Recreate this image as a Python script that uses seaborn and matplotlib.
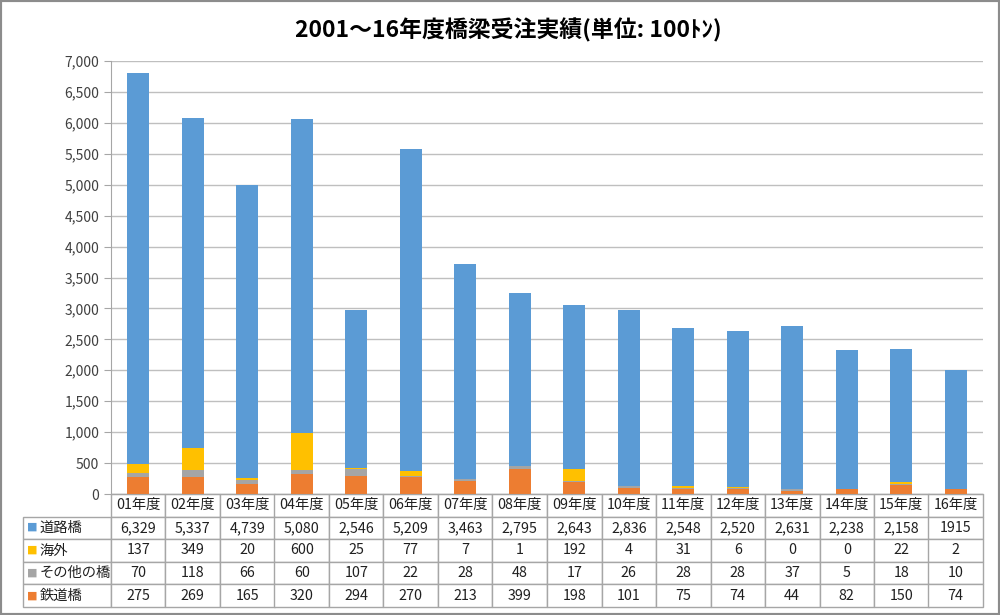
import numpy as np
import pandas as pd
import matplotlib
matplotlib.use('Agg')
import matplotlib.pyplot as plt
import matplotlib.ticker as ticker
from matplotlib.patches import Rectangle
import seaborn as sns

# данные
years = ['01年度', '02年度', '03年度', '04年度', '05年度', '06年度', '07年度', '08年度',
         '09年度', '10年度', '11年度', '12年度', '13年度', '14年度', '15年度', '16年度']
road = [6329, 5337, 4739, 5080, 2546, 5209, 3463, 2795, 2643, 2836, 2548, 2520, 2631, 2238, 2158, 1915]
overseas = [137, 349, 20, 600, 25, 77, 7, 1, 192, 4, 31, 6, 0, 0, 22, 2]
other = [70, 118, 66, 60, 107, 22, 28, 48, 17, 26, 28, 28, 37, 5, 18, 10]
rail = [275, 269, 165, 320, 294, 270, 213, 399, 198, 101, 75, 74, 44, 82, 150, 74]
road_text = ['6,329', '5,337', '4,739', '5,080', '2,546', '5,209', '3,463', '2,795',
             '2,643', '2,836', '2,548', '2,520', '2,631', '2,238', '2,158', '1915']
series_names = ['道路橋', '海外', 'その他の橋', '鉄道橋']

# цвета
c_road = '#5B9BD5'
c_over = '#FFC000'
c_other = '#A5A5A5'
c_rail = '#ED7D31'

sns.set_style('white')
plt.rcParams['font.family'] = ['Noto Sans CJK JP', 'DejaVu Sans']

df = pd.DataFrame({'year': years, 'road': road, 'overseas': overseas, 'other': other, 'rail': rail})
df['s_rail'] = df['rail']
df['s_other'] = df['s_rail'] + df['other']
df['s_over'] = df['s_other'] + df['overseas']
df['s_road'] = df['s_over'] + df['road']

fig = plt.figure(figsize=(10, 6.15), dpi=100)
ax = fig.add_axes([111 / 1000, 1 - 494 / 615, 872 / 1000, 433 / 615])

# стек: рисуем от суммы к нижнему слою
for col, c in [('s_road', c_road), ('s_over', c_over), ('s_other', c_other), ('s_rail', c_rail)]:
    sns.barplot(data=df, x='year', y=col, color=c, saturation=1, width=0.4, ax=ax, linewidth=0)

ax.set_xlim(-0.5, 15.5)
ax.set_ylim(0, 7000)
ax.yaxis.set_major_locator(ticker.MultipleLocator(500))
ax.yaxis.set_major_formatter(ticker.FuncFormatter(lambda x, pos: '{:,.0f}'.format(x)))
ax.yaxis.grid(True, color='#BFBFBF', lw=1)
ax.set_axisbelow(True)
ax.set_xlabel('')
ax.set_ylabel('')
ax.set_xticks([])
ax.tick_params(axis='y', length=5, color='#A6A6A6', labelsize=10, labelcolor='#404040', left=True)
for s in ['top', 'right']:
    ax.spines[s].set_visible(False)
ax.spines['left'].set_color('#A6A6A6')
ax.spines['bottom'].set_color('#A6A6A6')

# таблица данных
rows = [
    [series_names[0]] + road_text,
    [series_names[1]] + [str(v) for v in overseas],
    [series_names[2]] + [str(v) for v in other],
    [series_names[3]] + [str(v) for v in rail],
]
col_w = [88 / 960] + [54.5 / 960] * 16
tbl = ax.table(cellText=rows, colLabels=[''] + years, colWidths=col_w, cellLoc='center',
               bbox=[(23 - 111) / 872, -113 / 433, 960 / 872, 113 / 433])
tbl.auto_set_font_size(False)
tbl.set_fontsize(10.3)
for (r, c), cell in tbl.get_celld().items():
    cell.set_edgecolor('#A6A6A6')
    cell.set_linewidth(1)
    cell.get_text().set_color('#202020')
    if c == 0:
        cell._loc = 'left'
        cell.PAD = 0.19
        cell.get_text().set_ha('left')
    if r == 0 and c == 0:
        cell.visible_edges = ''

# маркеры легенды в таблице
for i, c in enumerate([c_road, c_over, c_other, c_rail]):
    yc = 1 - (527 + i * 23) / 615
    fig.text(32 / 1000, yc, '■', color=c, fontsize=8, ha='center', va='center', family='DejaVu Sans')

fig.text(0.508, 1 - 30 / 615, '2001～16年度橋梁受注実績(単位: 100ﾄﾝ)',
         ha='center', va='center', fontsize=16.5, fontweight='bold', color='#000000')

fig.add_artist(Rectangle((0, 0), 1, 1, transform=fig.transFigure, fill=False,
                         edgecolor='#8C8C8C', lw=3))

plt.savefig('out.png', dpi=100)
plt.close()
